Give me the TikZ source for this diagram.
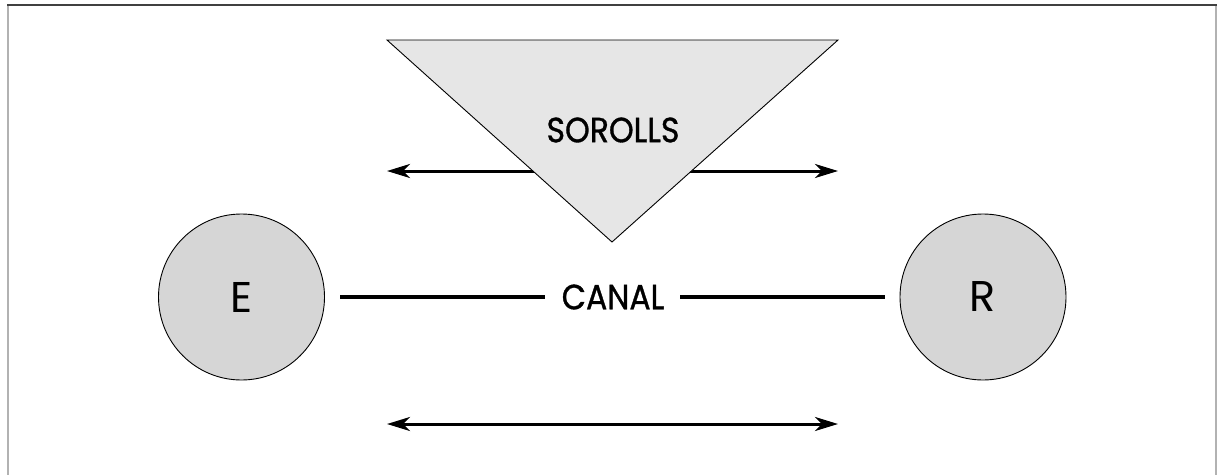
\documentclass[tikz,border=0pt]{standalone}
\usepackage{fontspec}
\setmainfont{Poppins}
\newfontfamily\lblfont{Poppins}[FakeBold=1]
\usetikzlibrary{arrows.meta}
\definecolor{trifill}{HTML}{E6E6E6}
\definecolor{circfill}{HTML}{D6D6D6}
\tikzset{
  station/.style={circle, draw=black, line width=0.9pt, fill=circfill, minimum size=166pt, inner sep=0pt, font=\fontsize{43}{43}\selectfont},
  lbl/.style={inner sep=0pt, xscale=0.9, transform shape, font=\lblfont\fontsize{35}{35}\selectfont},
  dblarrow/.style={line width=3pt, {Stealth[length=23pt,width=14pt,inset=7pt]}-{Stealth[length=23pt,width=14pt,inset=7pt]}},
  chan/.style={line width=3.2pt}
}
\begin{document}
\begin{tikzpicture}[x=1pt,y=-1pt]
\useasboundingbox (0,0) rectangle (1218,474);
\fill[white] (0,0) rectangle (1218,474);
% frame
\draw[gray!60, line width=2pt] (8,480) -- (8,4.5);
\draw[gray!60, line width=2pt] (1216,4.5) -- (1216,480);
\draw[black!75, line width=2pt] (7,4.5) -- (1217,4.5);
% upper arrow
\coordinate (ua1) at (387,171);
\coordinate (ua2) at (838,171);
\draw[dblarrow] (ua1) -- (ua2);
% triangle
\coordinate (t1) at (387,40);
\coordinate (t2) at (838,40);
\coordinate (t3) at (612,242);
\filldraw[fill=trifill, draw=black, line width=0.9pt] (t1) -- (t2) -- (t3) -- cycle;
\node[lbl] (sor) at (613,130) {SOROLLS};
% stations
\node[station] (E) at (241.5,297) {E};
\node[station] (R) at (983,297) {R};
\node[lbl] (canal) at (613,297) {CANAL};
\coordinate (c1) at (340,297);
\coordinate (c2) at (545,297);
\coordinate (c3) at (680,297);
\coordinate (c4) at (885,297);
\draw[chan] (c1) -- (c2);
\draw[chan] (c3) -- (c4);
% lower arrow
\coordinate (la1) at (387,424);
\coordinate (la2) at (838,424);
\draw[dblarrow] (la1) -- (la2);
\end{tikzpicture}
\end{document}
